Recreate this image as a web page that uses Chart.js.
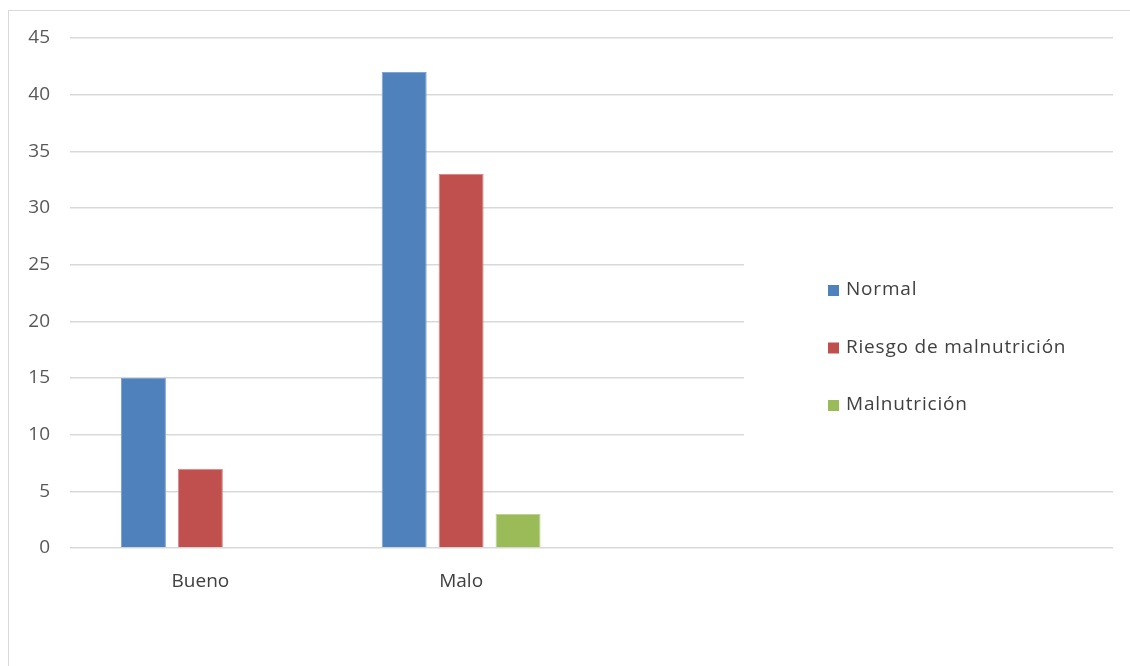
<!DOCTYPE html>
<html>
<head>
<meta charset="utf-8">
<script src="https://cdn.jsdelivr.net/npm/chart.js@4"></script>
<style>
  html, body { margin: 0; padding: 0; background: #fff; overflow: hidden; }
  #wrap { position: absolute; left: 0; top: 0; width: 1130px; height: 666px; }
  #frame { position: absolute; left: 8px; top: 10px; width: 1200px; height: 700px; border: 1px solid #d9d9d9; pointer-events: none; }
</style>
</head>
<body>
<div id="wrap"><canvas id="chart" width="1130" height="666"></canvas></div>
<div id="frame"></div>
<script>
// Categories and series
const categories = ['Bueno', 'Malo', '', ''];
const normalValues = [15, 42, null, null];
const riesgoValues = [7, 33, null, null];
const malnutricionValues = [0, 3, null, null];
const yTicks = [0, 5, 10, 15, 20, 25, 30, 35, 40, 45];

const FONT = '"Open Sans", sans-serif';

// Legend drawn inside the plot, over a white box (like the Excel original)
const overlayLegend = {
    id: 'overlayLegend',
    afterDraw(chart) {
        const ctx = chart.ctx;
        ctx.save();
        ctx.fillStyle = '#ffffff';
        ctx.fillRect(744, 236, 380, 232);
        ctx.font = '19px ' + FONT;
        ctx.letterSpacing = '0.8px';
        ctx.textBaseline = 'middle';
        chart.data.datasets.forEach((ds, i) => {
            const y = 290 + i * 57.5;
            ctx.fillStyle = ds.backgroundColor;
            ctx.fillRect(828, y - 5, 11, 11);
            ctx.fillStyle = '#404040';
            ctx.fillText(ds.label, 846, y);
        });
        ctx.restore();
    }
};

const ctx = document.getElementById('chart').getContext('2d');
new Chart(ctx, {
    type: 'bar',
    data: {
        labels: categories,
        datasets: [
            { label: 'Normal', data: normalValues, backgroundColor: '#4f81bd', borderColor: '#7fa3d0', borderWidth: 1 },
            { label: 'Riesgo de malnutrición', data: riesgoValues, backgroundColor: '#c0504d', borderColor: '#d88a88', borderWidth: 1 },
            { label: 'Malnutrición', data: malnutricionValues, backgroundColor: '#9bbb59', borderColor: '#bcd395', borderWidth: 1 }
        ]
    },
    options: {
        responsive: false,
        animation: false,
        layout: { padding: { top: 38, right: 17, left: 0, bottom: 0 } },
        datasets: {
            bar: { categoryPercentage: 0.655, barPercentage: 0.79 }
        },
        scales: {
            x: {
                grid: { display: false },
                border: { display: false },
                ticks: { color: '#404040', font: { family: FONT, size: 19 }, padding: 14, maxRotation: 0 },
                afterFit(scale) { scale.height = 118; }
            },
            y: {
                min: 0,
                max: 45,
                afterBuildTicks(scale) { scale.ticks = yTicks.map(v => ({ value: v })); },
                grid: { color: '#d9d9d9', lineWidth: 1.5, drawTicks: false },
                border: { display: false },
                ticks: { color: '#595959', font: { family: FONT, size: 19 }, padding: 20 },
                afterFit(scale) { scale.width = 70; }
            }
        },
        plugins: {
            legend: { display: false },
            tooltip: { enabled: false }
        }
    },
    plugins: [overlayLegend]
});
</script>
</body>
</html>
